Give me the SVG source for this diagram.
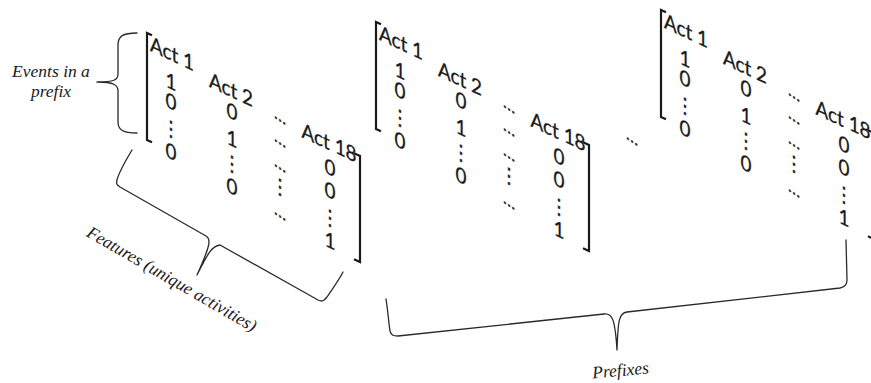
<svg xmlns="http://www.w3.org/2000/svg" xmlns:xlink="http://www.w3.org/1999/xlink" width="871" height="383" viewBox="0 0 871 383">
  <style>
    .m { font-family: Lato, "DejaVu Sans", sans-serif; font-size: 21px; fill: #1a1a1a; stroke: #1a1a1a; stroke-width: 0.3; text-anchor: middle; }
    .dots { font-size: 18px; }
    .lbl { font-family: "Liberation Serif", serif; font-style: italic; font-size: 17.5px; fill: #1a1a1a; }
    .br { fill: none; stroke: #1a1a1a; stroke-width: 2.2; stroke-linejoin: miter; }
    .brace { fill: none; stroke: #2a2a2a; stroke-width: 1.3; stroke-linecap: round; stroke-linejoin: round; }
  </style>
  <defs>
    <!-- one-hot prefix matrix, sheared so the columns step down to the right -->
    <g id="matrix">
      <path class="br" d="M152,35.3 L147,33 L147,140 L152,142.3"/>
      <path class="br" d="M354,153.2 L360,156 L360,262 L354,259.2"/>
      <!-- column: Act 1 -->
      <text class="m" transform="matrix(0.9,0.4197,0,1,172,61)">Act 1</text>
      <text class="m" transform="matrix(0.9,0.4197,0,1,171,89)">1</text>
      <text class="m" transform="matrix(0.9,0.4197,0,1,171,109)">0</text>
      <text class="m" transform="matrix(0.9,0.4197,0,1,171,136)">⋮</text>
      <text class="m" transform="matrix(0.9,0.4197,0,1,171,159)">0</text>
      <!-- column: Act 2 -->
      <text class="m" transform="matrix(0.9,0.4197,0,1,231,97)">Act 2</text>
      <text class="m" transform="matrix(0.9,0.4197,0,1,232,119)">0</text>
      <text class="m" transform="matrix(0.9,0.4197,0,1,232,146)">1</text>
      <text class="m" transform="matrix(0.9,0.4197,0,1,232,171)">⋮</text>
      <text class="m" transform="matrix(0.9,0.4197,0,1,232,194)">0</text>
      <!-- column: elided activities (steeper shear on the ellipses) -->
      <text class="m dots" transform="matrix(0.9,0.6,0,1,280,121.5)">…</text>
      <text class="m dots" transform="matrix(0.9,0.6,0,1,280,144.5)">…</text>
      <text class="m dots" transform="matrix(0.9,0.6,0,1,280,169.5)">…</text>
      <text class="m" transform="matrix(0.9,0.4197,0,1,280,194)">⋮</text>
      <text class="m dots" transform="matrix(0.9,0.6,0,1,280,217.5)">…</text>
      <!-- column: Act 18 -->
      <text class="m" transform="matrix(0.9,0.4197,0,1,329,150)">Act 18</text>
      <text class="m" transform="matrix(0.9,0.4197,0,1,330,175)">0</text>
      <text class="m" transform="matrix(0.9,0.4197,0,1,330,198)">0</text>
      <text class="m" transform="matrix(0.9,0.4197,0,1,330,225)">⋮</text>
      <text class="m" transform="matrix(0.9,0.4197,0,1,330,248)">1</text>
    </g>
  </defs>

  <g id="matrix-1"><use xlink:href="#matrix" href="#matrix"/></g>
  <g id="matrix-2"><use xlink:href="#matrix" href="#matrix" x="229" y="-11"/></g>
  <g id="matrix-3"><use xlink:href="#matrix" href="#matrix" x="514" y="-23"/></g>
  <g id="matrix-gap">
    <text class="m dots" transform="matrix(0.9,0.6,0,1,632,142.5)">…</text>
  </g>

  <g id="braces">
    <!-- events brace -->
    <path class="brace" d="M137,33 C123,33 118,36 118,45 L118,74 C118,80 114,82 97,82 M97,82 C114,82 118,85 118,91 L118,122 C118,130 123,133 137,133"/>
    <!-- features brace -->
    <path class="brace" d="M132,150 C126,160 119,172 117,180 C116,184 117,185 120,187 L206,236 C211,239 211,244 197,275 M197,275 C208,253 212,246 220,245 L318,300 C322,302 324,301 327,297 C333,288 339,280 343,272"/>
    <!-- prefixes brace -->
    <path class="brace" d="M386,299 C388,312 389,325 390,331 C391,335 393,336 398,336 L604,314 C612,313 615,318 617,350 M617,350 C618,320 619,313 627,312 L840,288 C845,287 847,285 847,280 L846,240"/>
  </g>

  <g id="events-label">
    <text class="lbl" text-anchor="middle" x="51" y="77">Events in a</text>
    <text class="lbl" text-anchor="middle" x="51" y="97">prefix</text>
  </g>
  <g id="features-label">
    <text class="lbl" text-anchor="middle" font-size="18" transform="translate(169,284) rotate(30)">Features (unique activities)</text>
  </g>
  <g id="prefixes-label">
    <text class="lbl" text-anchor="middle" transform="translate(621,376) rotate(-5)">Prefixes</text>
  </g>
</svg>
